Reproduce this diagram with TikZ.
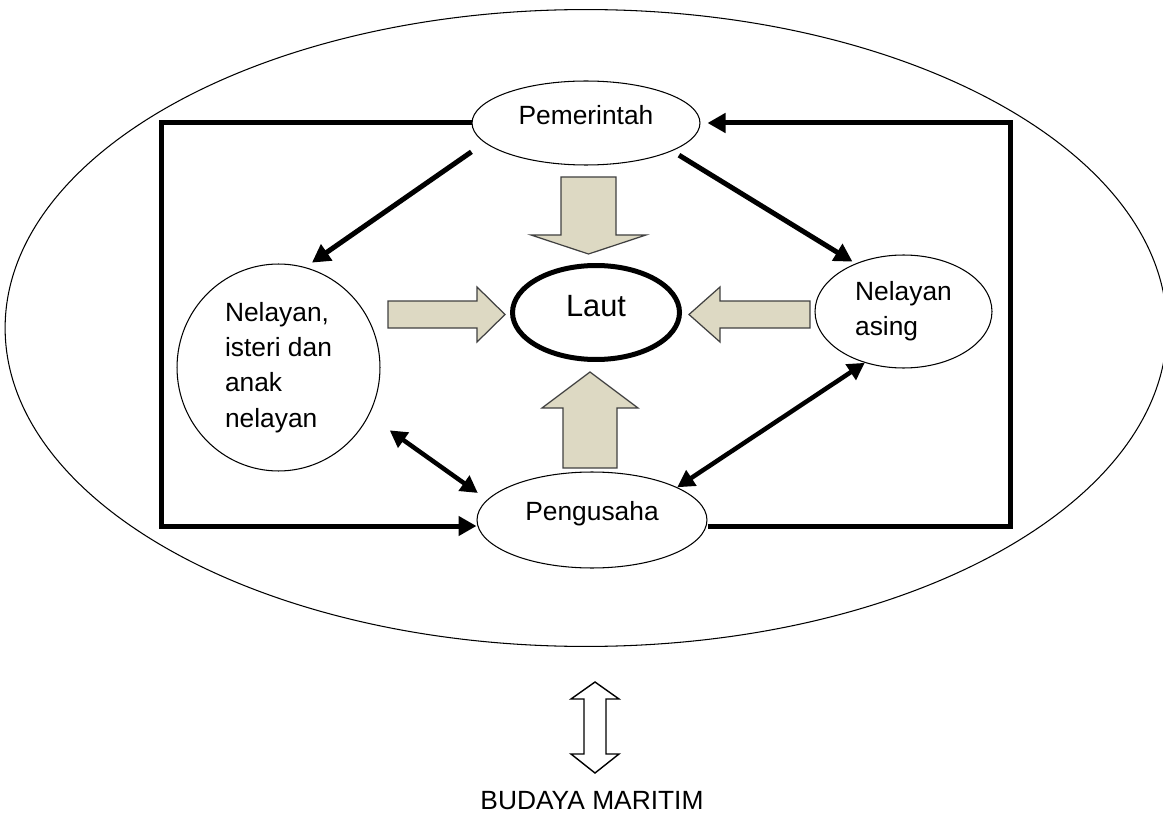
\documentclass[tikz,border=0pt]{standalone}
\usepackage{fontspec}
\setmainfont{Liberation Sans}
\usetikzlibrary{arrows.meta,shapes.geometric}
\definecolor{sand}{RGB}{221,217,195}
\tikzset{
	actor/.style={draw, ellipse, line width=0.6pt, inner sep=0pt, font=\fontsize{15}{20}\selectfont},
	oneline/.style={text height=#1, text depth=0pt},
	link/.style={line width=1mm, -{Triangle[length=3.6mm,width=3.8mm]}},
	both/.style={line width=0.9mm, {Triangle[length=3.4mm,width=3.6mm]}-{Triangle[length=3.4mm,width=3.6mm]}},
	blockarrow/.style={draw=black!75, line width=0.7pt, fill=sand},
}

\begin{document}
\begin{tikzpicture}[x=0.02cm, y=-0.02cm]
			%%%%% START %%%%%
			\useasboundingbox (0,0) rectangle (1163,814);
			\draw[line width=0.6pt] (586,328) ellipse [x radius=11.62cm, y radius=6.37cm];
			
			\node[actor, oneline=0.08cm, minimum width=4.56cm, minimum height=1.68cm] (gov) at (586,123) {Pemerintah};
			\node[actor, align=left, minimum width=4.06cm, minimum height=4.14cm] (fam) at (278.5,367.5) {Nelayan,\\isteri dan\\anak\\nelayan};
			\node[actor, oneline=0.16cm, line width=1mm, minimum width=3.34cm, minimum height=1.88cm, font=\fontsize{17.5}{20}\selectfont] (sea) at (596,312.5) {Laut};
			\node[actor, align=left, minimum width=3.54cm, minimum height=2.26cm] (asing) at (903.5,311.5) {Nelayan\\asing};
			\node[actor, oneline=0pt, minimum width=4.6cm, minimum height=1.92cm] (biz) at (592,520) {Pengusaha};
			
			\coordinate (tl) at (161,123);
			\coordinate (bl) at (161,526);
			\coordinate (br) at (1010,526);
			\coordinate (tr) at (1010,123);
			\draw[link] (gov.west) -- (tl) -- (bl) -- (bl -| biz.west);
			\draw[link, shorten >=0.14cm] (br -| biz.east) -- (br) -- (tr) -- (gov.east);
			
			\draw[link, shorten <=0.32cm, shorten >=0.16cm] (gov.191) -- (fam.75);
			\draw[link, shorten <=0.16cm, shorten >=0.07cm] (gov.342) -- (asing.135);
			\draw[both, shorten <=0.51cm, shorten >=0.23cm] (fam.332) -- (biz.169);
			\draw[both] (asing.233) -- (biz.21);
			
			\draw[blockarrow] (561,177) -- (616,177) -- (616,235) -- (646,235) -- (588.5,254) -- (531,235) -- (561,235) -- cycle;
			\draw[blockarrow] (563,468) -- (617,468) -- (617,408) -- (638,408) -- (590,372) -- (542,408) -- (563,408) -- cycle;
			\draw[blockarrow] (388,301) -- (477,301) -- (477,287) -- (505,314.5) -- (477,342) -- (477,328) -- (388,328) -- cycle;
			\draw[blockarrow] (810,301) -- (720,301) -- (720,287) -- (689,314.5) -- (720,342) -- (720,328) -- (810,328) -- cycle;
			
			\draw[line width=0.8pt, fill=white] (595,682) -- (619,699) -- (606,699) -- (606,754) -- (619,754) -- (595,773) -- (571,754) -- (584,754) -- (584,699) -- (571,699) -- cycle;
			\node[font=\fontsize{15}{18}\selectfont] (culture) at (592,801) {BUDAYA MARITIM};
			%%%%% END %%%%%
\end{tikzpicture}
\end{document}
